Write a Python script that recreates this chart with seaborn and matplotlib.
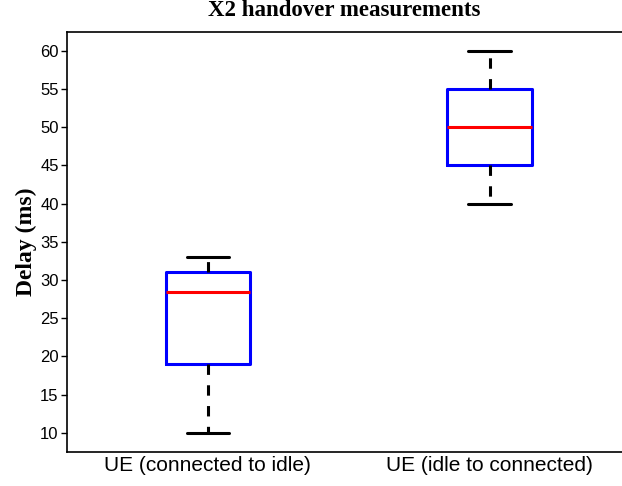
import matplotlib
matplotlib.use("Agg")
import matplotlib.pyplot as plt
import seaborn as sns
import pandas as pd

# Delay samples per scenario (min, Q1, median, Q3, max)
categories = ["UE (connected to idle)", "UE (idle to connected)"]
connected_to_idle = [10, 19, 28.5, 31, 33]
idle_to_connected = [40, 45, 50, 55, 60]

df = pd.DataFrame({
    "scenario": [categories[0]] * len(connected_to_idle) + [categories[1]] * len(idle_to_connected),
    "delay": connected_to_idle + idle_to_connected,
})

sns.set_style("white")
plt.rcParams["font.family"] = ["Liberation Sans", "DejaVu Sans"]
plt.rcParams["text.color"] = "black"
plt.rcParams["xtick.color"] = "black"
plt.rcParams["ytick.color"] = "black"
plt.rcParams["axes.labelcolor"] = "black"

fig = plt.figure(figsize=(6.22, 4.86), dpi=100)
ax = fig.add_axes([0.1077, 0.07, 0.8923, 0.8648])

sns.boxplot(
    data=df, x="scenario", y="delay", order=categories, ax=ax,
    width=0.3, whis=1.5, fill=False, showfliers=False,
    boxprops=dict(color="#0000ff", linewidth=2.2),
    medianprops=dict(color="#ff0000", linewidth=2.2),
    whiskerprops=dict(color="black", linewidth=2.2, linestyle=(0, (3.4, 3.4))),
    capprops=dict(color="black", linewidth=2.2),
)

ax.set_xlim(-0.5, 1.47)
ax.set_ylim(7.5, 62.5)
ax.set_yticks(range(10, 61, 5))
ax.tick_params(axis="y", direction="out", length=4, width=1, labelsize=12, pad=2,
               left=True, colors="black")
ax.tick_params(axis="x", length=0, labelsize=15, pad=3, colors="black")

for side in ("left", "top", "bottom"):
    ax.spines[side].set_visible(True)
    ax.spines[side].set_color("black")
    ax.spines[side].set_linewidth(1.2)
ax.spines["right"].set_visible(False)

ax.set_xlabel("")
ax.set_ylabel("Delay (ms)", family=["Liberation Serif", "DejaVu Serif"],
              fontweight="bold", fontsize=17, labelpad=2, color="black")
ax.set_title("X2 handover measurements", family=["Liberation Serif", "DejaVu Serif"],
             fontweight="bold", fontsize=16.5, pad=11, color="black")

fig.savefig("out.png", dpi=100)
